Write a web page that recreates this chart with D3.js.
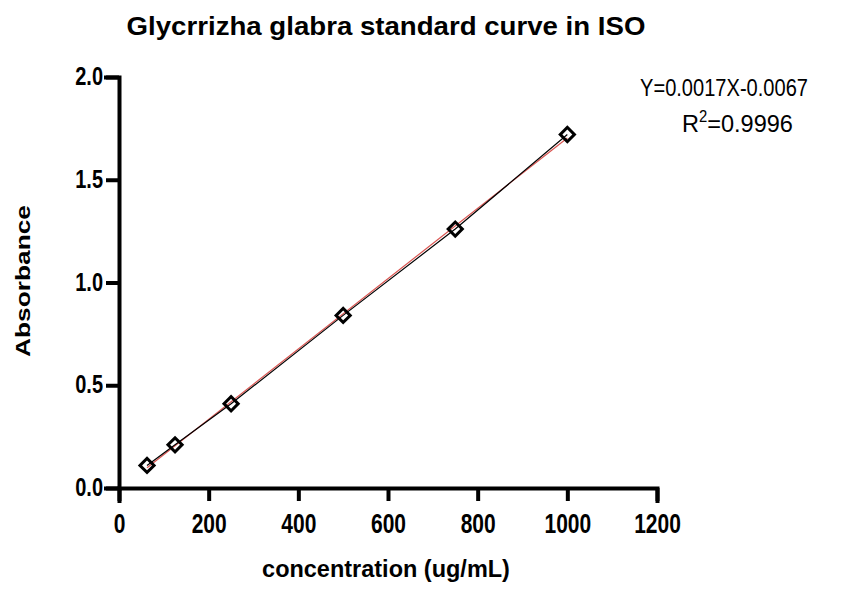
<!DOCTYPE html>
<html>
<head>
<meta charset="utf-8">
<script src="https://cdn.jsdelivr.net/npm/d3@7"></script>
<style>
  html, body { margin: 0; padding: 0; background: #fff; }
  svg { display: block; font-family: "Liberation Sans", Arial, Helvetica, sans-serif; }
</style>
</head>
<body>
<svg id="chart" width="841" height="590"></svg>
<script>
// ---- data ----
const concentration = [62.5, 125, 250, 500, 750, 1000];
const absorbance = [0.11, 0.21, 0.41, 0.84, 1.26, 1.72];
const xTickValues = [0, 200, 400, 600, 800, 1000, 1200];
const yTickValues = [0, 0.5, 1.0, 1.5, 2.0];
const titleText = "Glycrrizha glabra standard curve in ISO";
const xLabelText = "concentration (ug/mL)";
const yLabelText = "Absorbance";
const equationText = "Y=0.0017X-0.0067";
const r2Value = "=0.9996";

// ---- layout ----
const svg = d3.select("#chart");
const x = d3.scaleLinear().domain([0, 1200]).range([119, 657]);
const y = d3.scaleLinear().domain([0, 2]).range([488, 77]);
const SY = 1.3; // vertical stretch of the original raster

function fitText(sel, cx, baseline, targetW, sy) {
  const w = sel.node().getComputedTextLength();
  const sx = targetW / w;
  sel.attr("x", 0).attr("y", 0).attr("text-anchor", "middle")
     .attr("transform", `translate(${cx},${baseline}) scale(${sx},${sy})`);
}

// regression (least squares)
const n = concentration.length;
const mx = d3.mean(concentration), my = d3.mean(absorbance);
let sxy = 0, sxx = 0;
for (let i = 0; i < n; i++) {
  sxy += (concentration[i] - mx) * (absorbance[i] - my);
  sxx += (concentration[i] - mx) ** 2;
}
const slope = sxy / sxx, intercept = my - slope * mx;

// ---- axes ----
const xAxis = svg.append("g")
  .attr("transform", `translate(0,${y(0)})`)
  .call(d3.axisBottom(x).tickValues(xTickValues).tickSizeOuter(0).tickSize(13).tickFormat(d3.format("d")));
const yAxis = svg.append("g")
  .attr("transform", `translate(${x(0)},0)`)
  .call(d3.axisLeft(y).tickValues(yTickValues).tickSizeOuter(0).tickSize(13).tickFormat(d3.format(".1f")));

[xAxis, yAxis].forEach(g => {
  g.select(".domain").attr("stroke", "#000").attr("stroke-width", 4).attr("stroke-linecap", "square");
  g.selectAll(".tick line").attr("stroke", "#000").attr("stroke-width", 4);
});
xAxis.selectAll(".tick text")
  .attr("fill", "#000").attr("font-size", 21).attr("font-weight", "bold")
  .attr("y", 0).attr("dy", 0)
  .attr("transform", `translate(0,45) scale(1,${SY})`);
yAxis.selectAll(".tick text")
  .attr("fill", "#000").attr("font-size", 20).attr("font-weight", "bold")
  .attr("x", 0).attr("dy", 0).attr("y", 0).attr("text-anchor", "end")
  .attr("transform", `translate(-16,7.5) scale(1,${SY})`);

// ---- regression line (red) ----
const xr = d3.extent(concentration);
svg.append("line")
  .attr("x1", x(xr[0])).attr("y1", y(slope * xr[0] + intercept))
  .attr("x2", x(xr[1])).attr("y2", y(slope * xr[1] + intercept))
  .attr("stroke", "#d9534f").attr("stroke-width", 1.2);

// ---- connecting line (black) ----
const pts = concentration.map((c, i) => [c, absorbance[i]]);
svg.append("path")
  .datum(pts)
  .attr("d", d3.line().x(d => x(d[0])).y(d => y(d[1])))
  .attr("fill", "none").attr("stroke", "#000").attr("stroke-width", 1.2);

// ---- markers (diamonds) ----
svg.selectAll(".pt").data(pts).enter().append("path")
  .attr("class", "pt")
  .attr("d", d3.symbol().type(d3.symbolSquare).size(100))
  .attr("transform", d => `translate(${x(d[0])},${y(d[1])}) rotate(45)`)
  .attr("fill", "none").attr("stroke", "#000").attr("stroke-width", 3);

// ---- title ----
const title = svg.append("text").text(titleText)
  .attr("font-size", 22).attr("font-weight", "bold").attr("fill", "#000");
fitText(title, 386, 35, 519, SY * 0.92);

// ---- x label ----
const xl = svg.append("text").text(xLabelText)
  .attr("font-size", 19).attr("font-weight", "bold").attr("fill", "#000");
fitText(xl, 386, 577, 248, SY);

// ---- y label ----
const yl = svg.append("text").text(yLabelText)
  .attr("font-size", 21).attr("font-weight", "bold").attr("fill", "#000")
  .attr("text-anchor", "middle");
{
  const w = yl.node().getComputedTextLength();
  const s = 152 / w;
  yl.attr("x", 0).attr("y", 0)
    .attr("transform", `translate(30,281) rotate(-90) scale(${s},1)`);
}

// ---- equation ----
const eq = svg.append("text").text(equationText)
  .attr("font-size", 19).attr("fill", "#000");
fitText(eq, 724, 96, 168, SY);

const r2 = svg.append("text").attr("font-size", 19).attr("fill", "#000")
  .attr("text-anchor", "start");
r2.append("tspan").text("R");
r2.append("tspan").text("2").attr("font-size", 12).attr("dy", -8);
r2.append("tspan").text(r2Value).attr("dy", 8);
{
  const w = r2.node().getComputedTextLength();
  const s = 111 / w;
  r2.attr("x", 0).attr("y", 0)
    .attr("transform", `translate(682,132) scale(${s},${SY})`);
}
</script>
</body>
</html>
